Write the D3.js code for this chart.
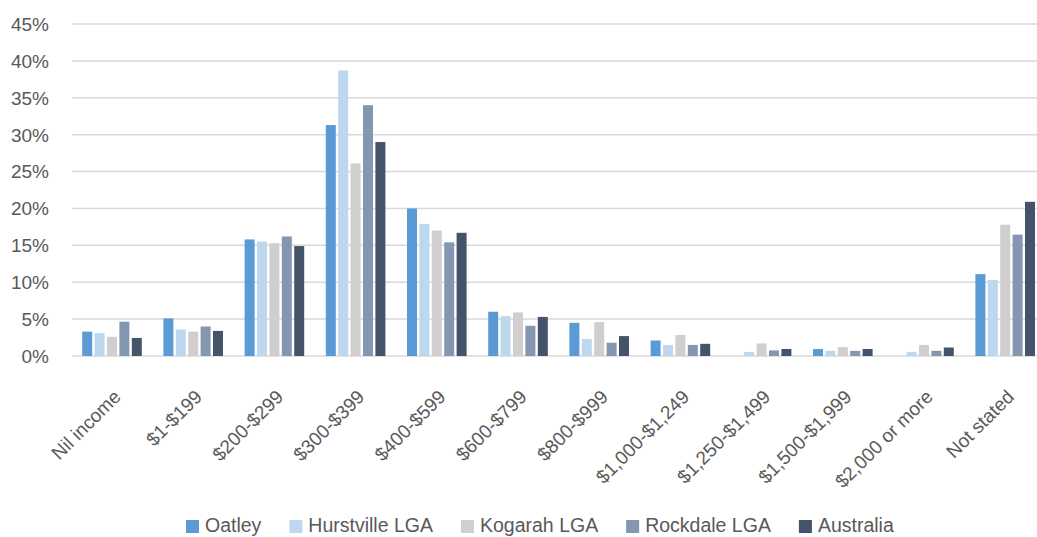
<!DOCTYPE html>
<html><head><meta charset="utf-8">
<script src="https://cdn.jsdelivr.net/npm/d3@7"></script>
<style>
html,body{margin:0;padding:0;background:#fff;}
svg{display:block;font-family:"Liberation Sans",Arial,sans-serif;}
</style></head>
<body>
<svg id="chart" width="1037" height="537"></svg>
<script>
const categories = ["Nil income","$1-$199","$200-$299","$300-$399","$400-$599","$600-$799","$800-$999","$1,000-$1,249","$1,250-$1,499","$1,500-$1,999","$2,000 or more","Not stated"];
const seriesNames = ["Oatley","Hurstville LGA","Kogarah LGA","Rockdale LGA","Australia"];
const oatley     = [3.3, 5.1, 15.8, 31.3, 20.0, 6.0, 4.5, 2.1, 0.0, 0.95, 0.0, 11.1];
const hurstville = [3.1, 3.6, 15.5, 38.7, 17.9, 5.4, 2.3, 1.5, 0.55, 0.7, 0.55, 10.3];
const kogarah    = [2.6, 3.3, 15.3, 26.1, 17.0, 5.9, 4.6, 2.85, 1.7, 1.2, 1.5, 17.8];
const rockdale   = [4.65, 4.0, 16.2, 34.0, 15.4, 4.1, 1.8, 1.5, 0.75, 0.7, 0.7, 16.45];
const australia  = [2.45, 3.4, 14.9, 29.0, 16.7, 5.3, 2.7, 1.65, 0.95, 0.95, 1.15, 20.9];
const yTicks = [0,5,10,15,20,25,30,35,40,45];
const colors = ["#5B9BD5","#BDD7EE","#D0CECE","#8497B0","#44546A"];

const seriesValues = [oatley, hurstville, kogarah, rockdale, australia];
const svg = d3.select("#chart");

const x0 = d3.scaleBand().domain(categories).range([71.4, 1045.8]).paddingInner(0).paddingOuter(0);
const groupW = 59.6;
const x1 = d3.scaleBand().domain(seriesNames)
  .range([(x0.bandwidth()-groupW)/2, (x0.bandwidth()+groupW)/2])
  .paddingInner(0.194).paddingOuter(0);
const y = d3.scaleLinear().domain([0,45]).range([356,24]);

// gridlines
svg.append("g").selectAll("line").data(yTicks).join("line")
  .attr("x1", 72).attr("x2", 1037)
  .attr("y1", d=>y(d)).attr("y2", d=>y(d))
  .attr("stroke", "#D9D9D9").attr("stroke-width", 1.5);

// y axis labels
svg.append("g").selectAll("text").data(yTicks).join("text")
  .attr("x", 49).attr("y", d=>y(d)).attr("dy","0.36em")
  .attr("text-anchor","end").attr("fill","#595959")
  .style("font-size","19px")
  .text(d=>d+"%");

// bars
const groups = svg.append("g").selectAll("g").data(categories).join("g")
  .attr("transform", c=>`translate(${x0(c)},0)`);
groups.selectAll("rect").data((c,i)=>seriesNames.map((s,j)=>({s, v: seriesValues[j][i], j})))
  .join("rect")
  .attr("x", d=>x1(d.s)).attr("width", x1.bandwidth())
  .attr("y", d=>y(d.v)).attr("height", d=>y(0)-y(d.v))
  .attr("fill", d=>colors[d.j]);

// x labels
svg.append("g").selectAll("text").data(categories).join("text")
  .attr("transform", c=>`translate(${x0(c)+x0.bandwidth()/2+10},398) rotate(-45)`)
  .attr("text-anchor","end").attr("fill","#595959")
  .style("font-size","19px")
  .text(c=>c);

// legend
const leg = svg.append("g");
let lx = 186;
seriesNames.forEach((s,j)=>{
  leg.append("rect").attr("x", lx).attr("y", 520).attr("width", 13).attr("height", 13).attr("fill", colors[j]);
  const t = leg.append("text").attr("x", lx+19).attr("y", 532)
    .attr("fill","#595959").style("font-size","19.5px").text(s);
  lx += 19 + t.node().getComputedTextLength() + 28;
});
</script>
</body></html>
